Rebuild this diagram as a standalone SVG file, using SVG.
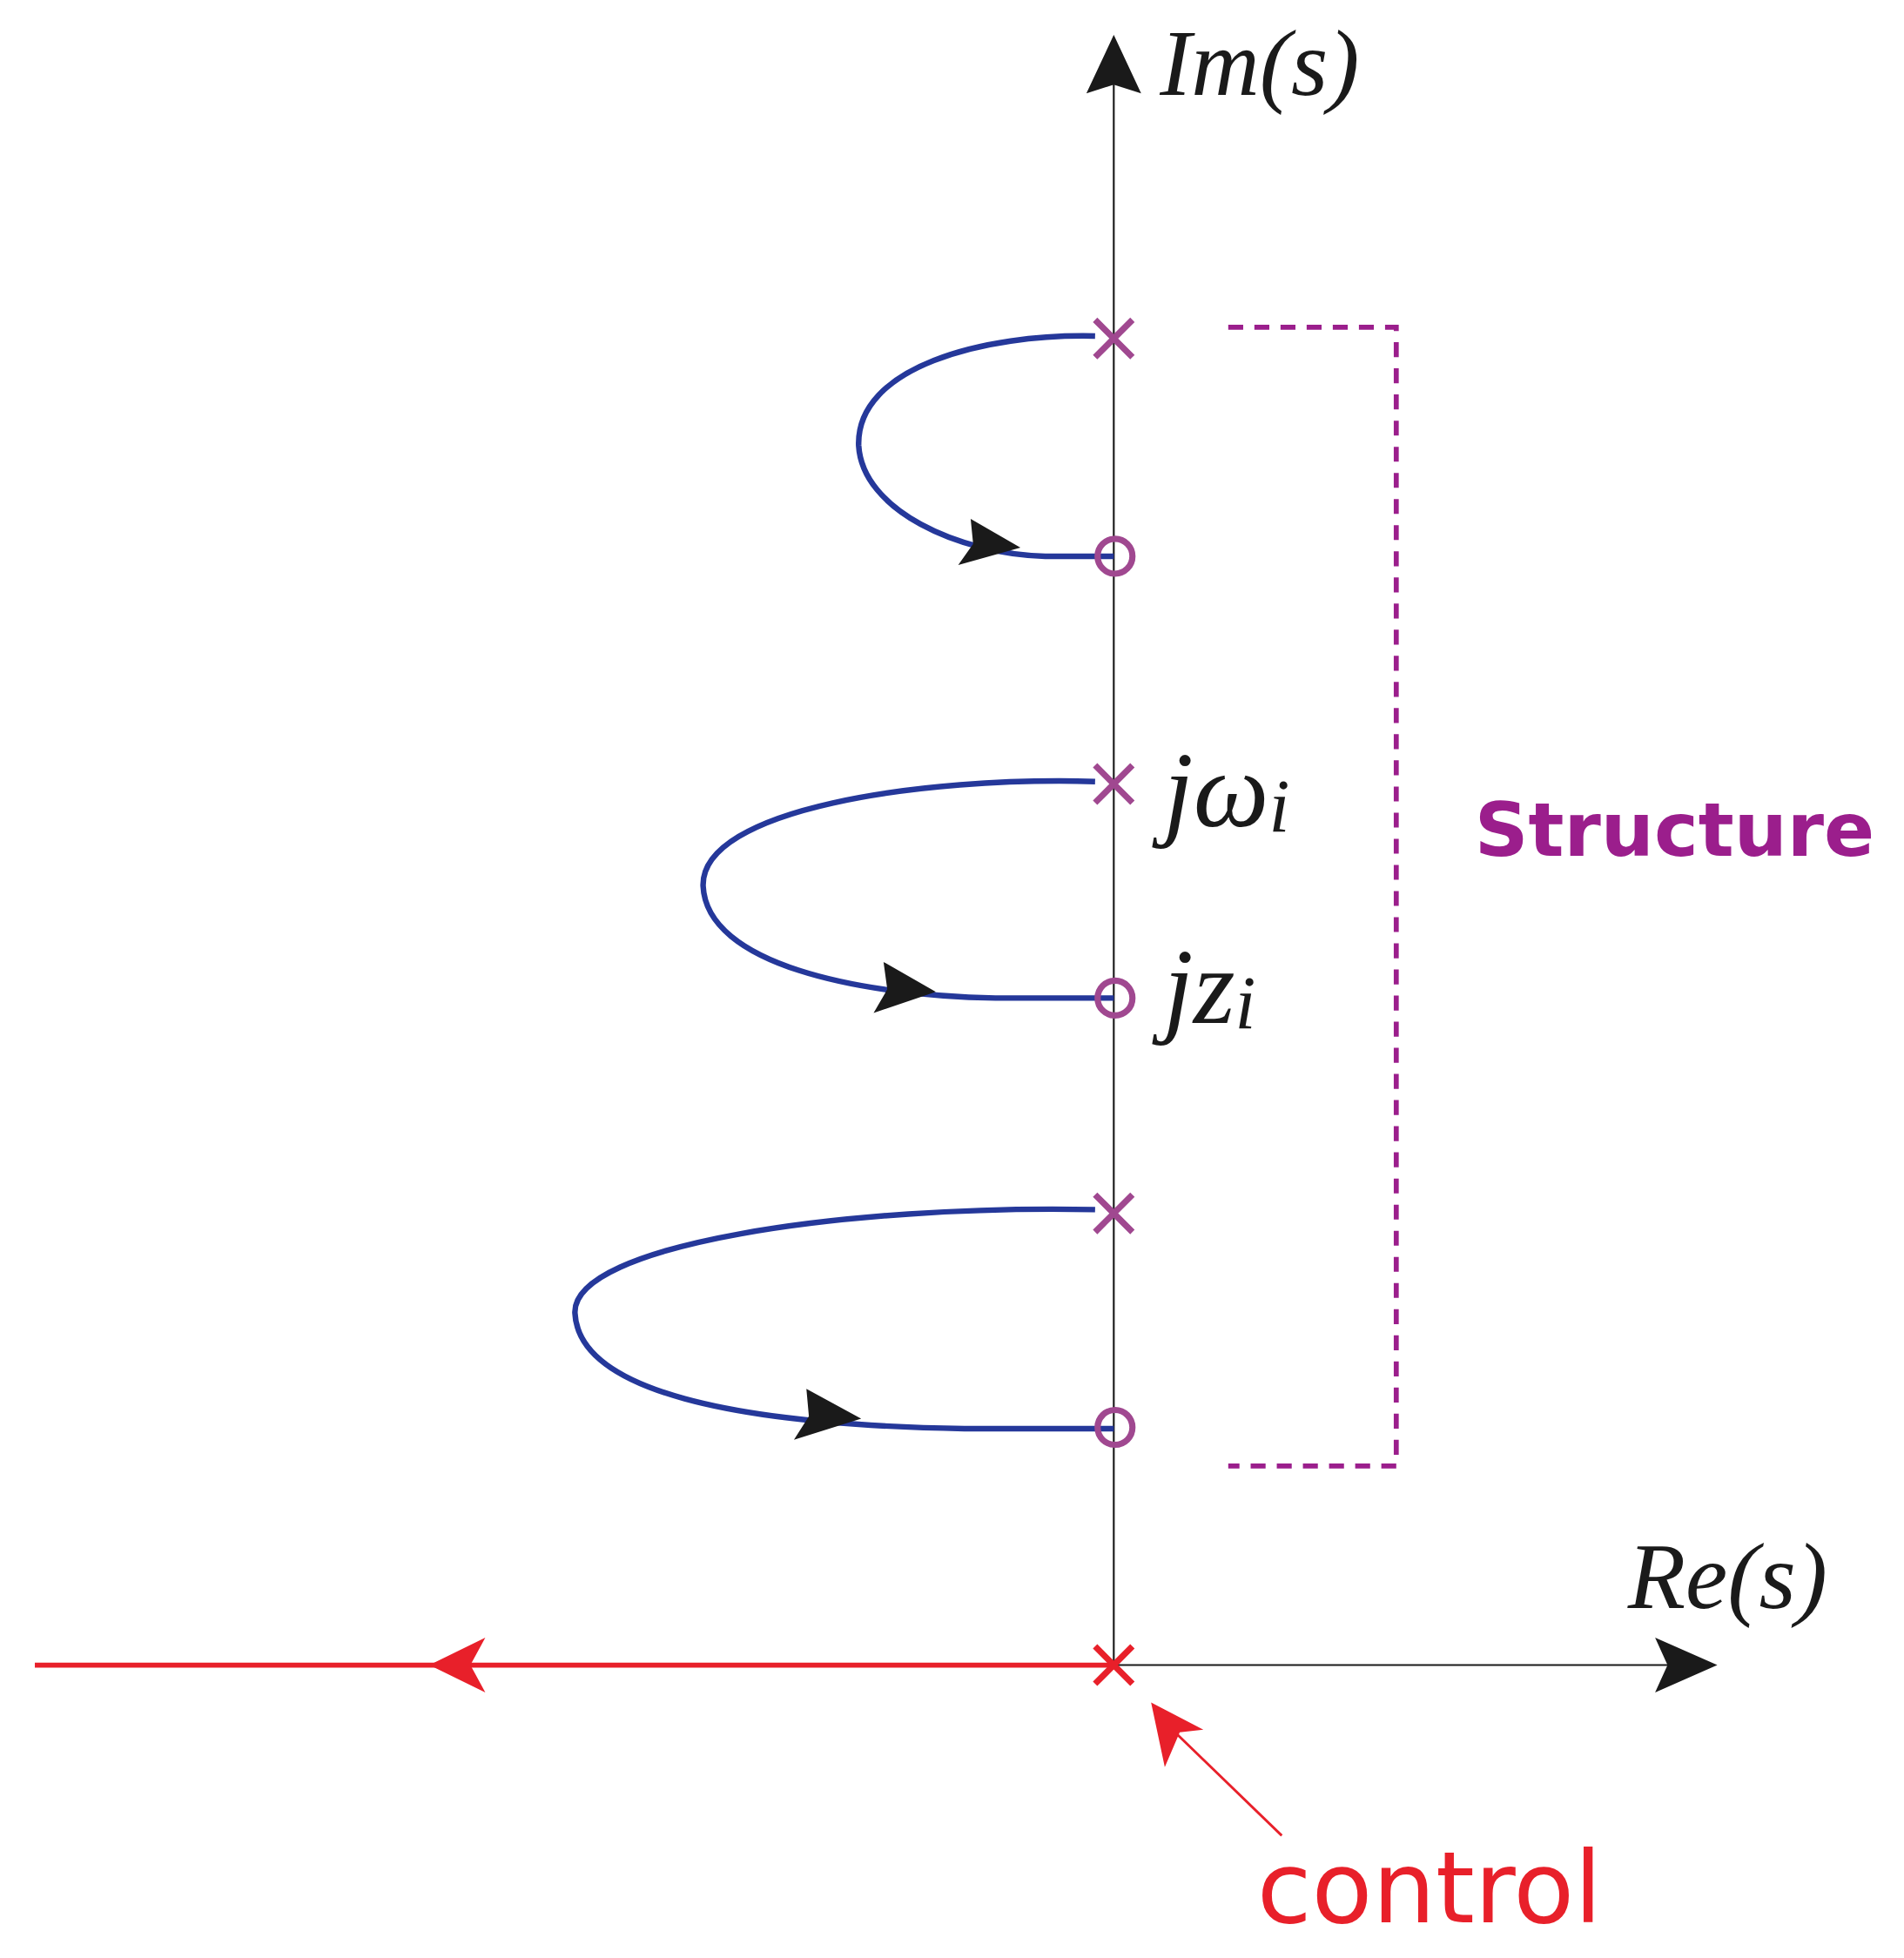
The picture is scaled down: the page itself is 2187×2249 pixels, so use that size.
<svg xmlns="http://www.w3.org/2000/svg" width="2187" height="2249" viewBox="0 0 2187 2249">
<style>
.ax{stroke:#1a1a1a;stroke-width:1.5;fill:none}
.loc{stroke:#25389a;stroke-width:4.5;fill:none}
.pm{stroke:#a04890;stroke-width:5;fill:none}
.tri{fill:#1a1a1a}
.math{font-family:"Liberation Serif",serif;font-style:italic;fill:#1a1a1a}
</style>
<rect width="2187" height="2249" fill="#fff"/>
<g transform="scale(1.4294)">
<g id="connectors">
<line class="ax" x1="895" y1="50" x2="895" y2="1338"/>
<line class="ax" x1="895" y1="1338" x2="1345" y2="1338"/>
<polygon class="tri" points="895,28 917,75 895,68 873,75"/>
<polygon class="tri" points="1380,1338 1330,1360 1340,1338 1330,1316"/>
<path class="loc" d="M880 270 C790 268 688 295 690 358 C693 410 770 445 840 447 L895 447"/>
<polygon class="tri" points="820,440 770,454 782,437 780,417"/>
<path class="loc" d="M880 628 C740 624 563 650 565 712 C568 775 690 800 800 802 L895 802"/>
<polygon class="tri" points="752,797 702,814 713,795 710,773"/>
<path class="loc" d="M880 972 C680 968 460 1000 462 1055 C465 1118 590 1145 775 1148 L895 1148"/>
<polygon class="tri" points="692,1140 638,1157 650,1138 648,1116"/>
<line x1="28" y1="1338" x2="895" y2="1338" stroke="#e8202a" stroke-width="4"/>
<polygon fill="#e8202a" points="345,1338 390,1316 378,1338 390,1360"/>
<line x1="1030" y1="1475" x2="937" y2="1385" stroke="#e8202a" stroke-width="2"/>
<polygon fill="#e8202a" points="925,1368 967,1390 948,1392 936,1420"/>
<polyline points="987,263 1122,263 1122,1178 987,1178" fill="none" stroke="#9b1e8c" stroke-width="4" stroke-dasharray="12,9"/>
</g>
<g id="poles">
<path class="pm" d="M880 257 L910 287 M910 257 L880 287"/>
<path class="pm" d="M880 615 L910 645 M910 615 L880 645"/>
<path class="pm" d="M880 960 L910 990 M910 960 L880 990"/>
<path d="M880 1323 L910 1353 M910 1323 L880 1353" stroke="#e8202a" stroke-width="5" fill="none"/>
</g>
<g id="zeros">
<circle class="pm" cx="896" cy="447" r="14"/>
<circle class="pm" cx="896" cy="802" r="14"/>
<circle class="pm" cx="896" cy="1147" r="14"/>
</g>
<g id="labels">
<text class="math" x="932" y="76" font-size="76">Im(s)</text>
<text class="math" x="1308" y="1292" font-size="76">Re(s)</text>
<text class="math" x="935" y="664" font-size="86">jω<tspan font-size="60" dy="4">i</tspan></text>
<text class="math" x="935" y="822" font-size="86">jz<tspan font-size="60" dy="4">i</tspan></text>
<text x="1185" y="688" font-family="DejaVu Sans,sans-serif" font-weight="bold" font-size="60" fill="#9b1e8c">Structure</text>
<text x="1010" y="1545" font-family="DejaVu Sans,sans-serif" font-size="80" fill="#e8202a">control</text>
</g>
</g>
</svg>
